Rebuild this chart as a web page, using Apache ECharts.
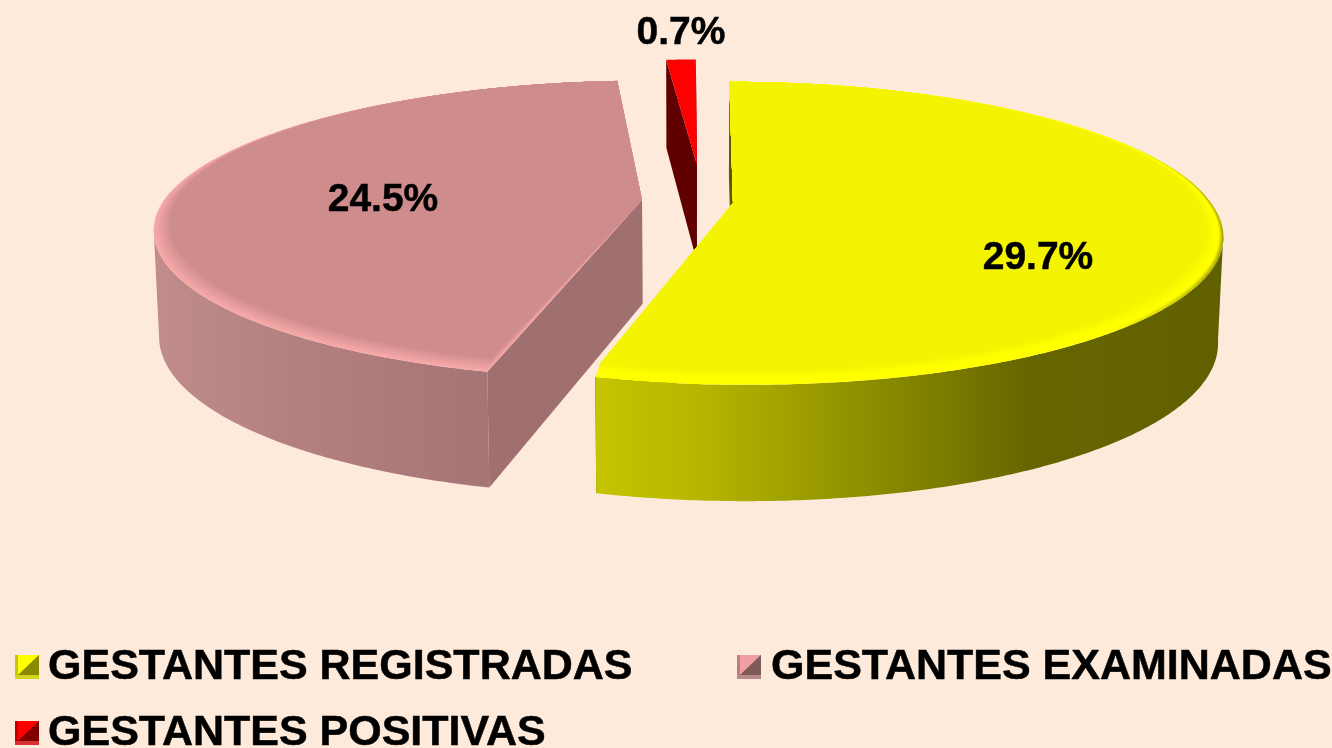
<!DOCTYPE html>
<html>
<head>
<meta charset="utf-8">
<style>html,body{margin:0;padding:0;background:#fdeada}#c{width:1332px;height:748px}</style>
<script src="https://cdn.jsdelivr.net/npm/echarts@6/dist/echarts.min.js"></script>
</head>
<body>
<div id="c"></div>
<script>
const categories = ['GESTANTES REGISTRADAS', 'GESTANTES EXAMINADAS', 'GESTANTES POSITIVAS'];
const seriesValues = [29.7, 24.5, 0.7];

// Look of the tilted pie
const FONT = '"Liberation Sans", Arial, sans-serif';
const RADIUS = 478, FLAT_RADIUS = 145.5, PERSPECTIVE = 0.2, VANISH_X = 690, DEPTH = 104, BOTTOM_SCALE = 0.99;
const BEVEL_LAYERS = 14;
const sliceLook = [
  { ax: 733, ay: 203, vs: 1, hs: 1, farSk: 3.5, nearSk: 3, depthK: 1, face: '#f4f400', cut: '#5a5a00', z: 3, labelX: 1038, labelY: 258,
    rimEdge: [['#ffff00', '#a8a800'], ['#ffff00', '#c4c400'], ['#ffff00', '#e0e000']], rimFrom: '#ffff00', rimHold: 0.45,
    wall: [[597, '#c4c400'], [700, '#b6b600'], [850, '#929200'], [1030, '#666600'], [1222, '#606000']] },
  { ax: 642, ay: 200, vs: 0.985, hs: 1, farSk: -2, nearSk: 8, depthK: 1, face: '#cf8c8c', cut: '#a07070', z: 2, labelX: 383, labelY: 200,
    rimEdge: [], rimFrom: '#f6a8a8', rimHold: 0.05,
    wall: [[155, '#c08c8c'], [300, '#b38080'], [492, '#a57474']] },
  { ax: 697, ay: 165, vs: 0.87, hs: 0.93, farSk: 0, nearSk: 0, depthK: 0.93, face: '#ff0000', cut: '#600000', z: 1, labelX: 681, labelY: 33,
    rimEdge: null, rimFrom: null, rimHold: 0, wall: [[660, '#600000'], [700, '#600000']] }
];
const iconColors = [
  ['#c4c418', '#ffff00', '#8a8a00', '#d4d420'],
  ['#b88080', '#f0a0a0', '#7f5a5a', '#b88a8a'],
  ['#c00000', '#ff0000', '#800000', '#d83030']
];
const legendSpots = [[15, 644, 4], [737, 644, 5], [15, 710, 4]];

const total = seriesValues.reduce((a, b) => a + b, 0);

function project(look, theta, rho, bottom) {
  const s = Math.sin(theta), c = Math.cos(theta);
  const f = 1 / (1 + PERSPECTIVE * c * rho);
  let x = VANISH_X + (look.ax - VANISH_X + RADIUS * look.hs * rho * s) * f;
  x += rho * (look.farSk * Math.max(0, c) + look.nearSk * Math.max(0, -c));
  let y = look.ay - FLAT_RADIUS * look.vs * rho * c * f;
  if (bottom) {
    x = VANISH_X + (x - VANISH_X) * BOTTOM_SCALE;
    y += DEPTH * Math.sqrt(f) * look.depthK;
  }
  return [x, y];
}
function angles(a0, a1) {
  const list = [], n = Math.max(2, Math.ceil((a1 - a0) / (Math.PI / 360)));
  for (let i = 0; i <= n; i++) list.push(a0 + (a1 - a0) * i / n);
  return list;
}
function poly(points, fill) {
  return { type: 'polygon', shape: { points }, style: { fill, stroke: null }, silent: true };
}
function hGrad(stops) {
  const x0 = stops[0][0], x1 = stops[stops.length - 1][0];
  return new echarts.graphic.LinearGradient(x0, 0, x1, 0,
    stops.map(s => ({ offset: (s[0] - x0) / (x1 - x0), color: s[1] })), true);
}
function renderSlice(index) {
  return function (params, api) {
    const look = sliceLook[index];
    const before = seriesValues.slice(0, index).reduce((a, b) => a + b, 0);
    const a0 = before / total * Math.PI * 2;
    const a1 = (before + api.value(0)) / total * Math.PI * 2;
    const ths = angles(a0, a1);
    const P = (t, b) => project(look, t, 1, b);
    const apex = project(look, 0, 0, false), apexB = project(look, 0, 0, true);
    const children = [];
    children.push(poly([apex, P(a1, false), P(a1, true), apexB], look.cut));
    // outer wall: only the part that faces the viewer
    const near = ths.filter(t => Math.cos(t) <= -PERSPECTIVE);
    if (near.length > 1) {
      children.push(poly(near.map(t => P(t, false)).concat(near.slice().reverse().map(t => P(t, true))), hGrad(look.wall)));
    }
    children.push(poly([apex, P(a0, false), P(a0, true), apexB], look.cut));
    // top face, with nested layers for the bevel round the near rim
    const count = look.rimFrom ? BEVEL_LAYERS : 1;
    for (let l = 0; l < count; l++) {
      const t = count > 1 ? l / (count - 1) : 0;
      const pts = ths.map(th => {
        const p = P(th, false);
        return [p[0] - 17 * t * Math.sin(th), p[1] - 14 * t * (1 - Math.cos(th)) / 2];
      });
      let fill = look.face;
      if (look.rimFrom) {
        const blend = Math.min(1, Math.max(0, (t - look.rimHold) / (1 - look.rimHold)));
        fill = echarts.color.lerp(blend, [look.rimFrom, look.face]);
        if (look.rimEdge[l]) {
          fill = hGrad([[700, look.rimEdge[l][0]], [1110, look.rimEdge[l][0]], [1222, look.rimEdge[l][1]]]);
        }
      }
      children.push(poly([apex].concat(pts), fill));
    }
    children.push({
      type: 'text', silent: true, z2: 50,
      style: { x: look.labelX, y: look.labelY, text: api.value(0).toFixed(1) + '%', fill: '#000',
        stroke: '#000', lineWidth: 0.5,
        font: 'bold 39px ' + FONT, align: 'center', verticalAlign: 'middle' }
    });
    return { type: 'group', children };
  };
}
function icon(c) {
  const svg = '<svg xmlns="http://www.w3.org/2000/svg" width="24" height="24">' +
    '<rect width="24" height="24" fill="' + c[0] + '"/>' +
    '<rect y="20" width="24" height="4" fill="' + c[3] + '"/>' +
    '<polygon points="3,0 24,0 3,20" fill="' + c[1] + '"/>' +
    '<polygon points="24,0 24,20 3,20" fill="' + c[2] + '"/></svg>';
  return 'image://data:image/svg+xml;charset=utf-8,' + encodeURIComponent(svg);
}

const chart = echarts.init(document.getElementById('c'), null, { renderer: 'canvas' });
chart.setOption({
  animation: false,
  backgroundColor: '#fdeada',
  tooltip: { show: false },
  legend: categories.map((name, i) => ({
    data: [{ name, icon: icon(iconColors[i]) }],
    left: legendSpots[i][0], top: legendSpots[i][1], padding: 0,
    itemWidth: 24, itemHeight: 24, selectedMode: false,
    textStyle: { fontFamily: FONT, fontWeight: 'bold', fontSize: 43, color: '#000', padding: [0, 0, 0, legendSpots[i][2]], lineHeight: 46,
      textBorderColor: '#000', textBorderWidth: 0.5 }
  })),
  series: categories.map((name, i) => ({
    type: 'custom', name, coordinateSystem: 'none', z: sliceLook[i].z,
    itemStyle: { color: sliceLook[i].face },
    data: [[seriesValues[i]]],
    renderItem: renderSlice(i)
  }))
});
</script>
</body>
</html>
